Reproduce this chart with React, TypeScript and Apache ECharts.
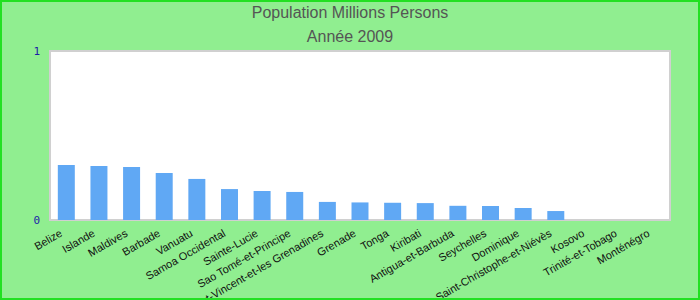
import React, { useEffect, useRef } from "react";
import * as echarts from "echarts";

const categories = [
  "Belize",
  "Islande",
  "Maldives",
  "Barbade",
  "Vanuatu",
  "Samoa Occidental",
  "Sainte-Lucie",
  "Sao Tomé-et-Principe",
  "Saint-Vincent-et-les Grenadines",
  "Grenade",
  "Tonga",
  "Kiribati",
  "Antigua-et-Barbuda",
  "Seychelles",
  "Dominique",
  "Saint-Christophe-et-Niévès",
  "Kosovo",
  "Trinité-et-Tobago",
  "Monténégro",
];

const values: (number | null)[] = [
  0.325, 0.32, 0.314, 0.278, 0.243, 0.183, 0.172, 0.166, 0.107, 0.104, 0.102,
  0.1, 0.084, 0.083, 0.071, 0.053, null, null, null,
];

const titleText = "Population Millions Persons";
const subtitleText = "Année 2009";

export default function App() {
  const ref = useRef<HTMLDivElement>(null);
  useEffect(() => {
    document.body.style.margin = "0";
    if (!ref.current) return;
    const chart = echarts.init(ref.current, undefined, { renderer: "svg" });
    chart.setOption({
      animation: false,
      backgroundColor: "#90ee90",
      title: {
        text: titleText,
        subtext: subtitleText,
        left: "center",
        top: -1,
        itemGap: 8,
        textStyle: {
          fontFamily: "Liberation Sans",
          fontSize: 16,
          fontWeight: "normal",
          color: "#555555",
        },
        subtextStyle: {
          fontFamily: "Liberation Sans",
          fontSize: 16,
          color: "#555555",
        },
      },
      graphic: [
        {
          type: "rect",
          shape: { x: 1, y: 1, width: 698, height: 298 },
          style: { fill: "none", stroke: "#22e022", lineWidth: 2 },
          silent: true,
          z: 100,
        },
      ],
      grid: {
        left: 50,
        right: 30,
        top: 51,
        bottom: 80,
        outerBoundsMode: "none",
        containLabel: false,
        show: true,
        backgroundColor: "#ffffff",
        borderColor: "#d0d0d0",
        borderWidth: 2,
      },
      xAxis: {
        type: "category",
        data: categories,
        axisLine: { show: false },
        axisTick: { show: false },
        axisLabel: {
          interval: 0,
          rotate: 30,
          margin: 9,
          padding: [0, 6, 0, 0],
          fontFamily: "Liberation Sans",
          fontSize: 11,
          color: "#111111",
        },
      },
      yAxis: {
        type: "value",
        min: 0,
        max: 1,
        interval: 1,
        splitLine: { show: false },
        axisLine: { show: false },
        axisTick: { show: false },
        axisLabel: {
          margin: 10,
          fontFamily: "DejaVu Sans Mono",
          fontSize: 11,
          color: "#1c1ca8",
        },
      },
      series: [
        {
          type: "bar",
          data: values,
          barWidth: 17,
          itemStyle: { color: "#60a8f4" },
        },
      ],
    });
    return () => chart.dispose();
  }, []);
  return <div ref={ref} style={{ width: 700, height: 300 }} />;
}
